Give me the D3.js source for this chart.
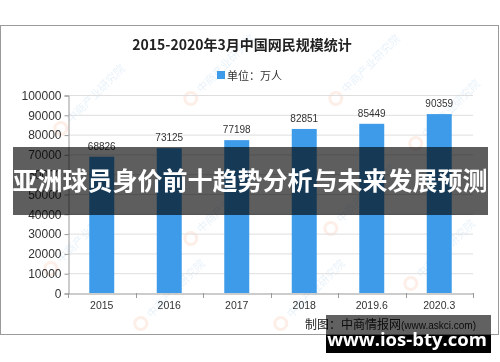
<!DOCTYPE html>
<html>
<head>
<meta charset="utf-8">
<script src="https://cdn.jsdelivr.net/npm/d3@7"></script>
<style>
  html,body{margin:0;padding:0;background:#fff;}
  svg{display:block;}
  .num{font-family:"Liberation Sans",Arial,sans-serif;fill:#333;}
  .cjk{font-family:"Noto Sans CJK SC","Noto Sans",sans-serif;}
</style>
</head>
<body>
<svg id="chart" width="500" height="362"></svg>
<script>
/* -------------------- data -------------------- */
const periods = ["2015","2016","2017","2018","2019.6","2020.3"];
const netUsers = [68826,73125,77198,82851,85449,90359];   // 万人
const yTicks = [0,10000,20000,30000,40000,50000,60000,70000,80000,90000,100000];
const titleText = "2015-2020年3月中国网民规模统计";
const legendText = "单位：万人";
const bannerText = "亚洲球员身价前十趋势分析与未来发展预测";
const sourceMain = "制图：中商情报网";
const sourceUrl = "(www.askci.com)";
const siteText = "www.ios-bty.com";
const watermarkText = "中商产业研究院";

/* -------------------- setup -------------------- */
const svg = d3.select("#chart");
const BLUE = "#3d9be9";

// outer frame of the picture
svg.append("rect")
   .attr("x",0.5).attr("y",25.5).attr("width",498).attr("height",309)
   .attr("fill","#fff").attr("stroke","#9a9a9a");

// faint watermarks (kept inside the frame)
const wm = svg.append("g").attr("opacity",0.12);
[[70,125],[200,95],[345,95],[425,140],[60,265],[200,235],[340,225],[420,280],[150,320],[290,320]]
  .forEach(([x,y])=>{
    const g = wm.append("g").attr("transform",`translate(${x},${y}) rotate(-45)`);
    g.append("circle").attr("cx",-9).attr("cy",-4).attr("r",6)
     .attr("fill","none").attr("stroke","#e8743b").attr("stroke-width",3);
    g.append("text").attr("class","cjk").attr("x",2).attr("y",0)
     .attr("font-size",11).attr("fill","#3d8fd6").text(watermarkText);
  });

const x = d3.scaleBand().domain(periods).range([68,473])
            .paddingInner(0.63).paddingOuter(0.315);
const y = d3.scaleLinear().domain([0,100000]).range([293,95]);

// title + legend
svg.append("text").attr("class","cjk")
   .attr("x",242).attr("y",50).attr("text-anchor","middle")
   .attr("font-size",14).attr("font-weight","bold").attr("fill","#222")
   .text(titleText);
svg.append("rect").attr("x",217).attr("y",71).attr("width",8).attr("height",8).attr("fill",BLUE);
svg.append("text").attr("class","cjk")
   .attr("x",227).attr("y",79.5).attr("font-size",11).attr("fill","#333")
   .text(legendText);

// gridlines
svg.append("g").selectAll("line").data(yTicks.slice(1)).join("line")
   .attr("x1",68).attr("x2",473).attr("y1",d=>y(d)+0.5).attr("y2",d=>y(d)+0.5)
   .attr("stroke","#dedede");

// y axis
const yAxis = svg.append("g").attr("transform","translate(68.5,0.5)")
   .call(d3.axisLeft(y).tickValues(yTicks).tickSize(4).tickPadding(3).tickFormat(d3.format("d")));
yAxis.selectAll("path,line").attr("stroke","#999");
yAxis.selectAll("text").attr("class","num").attr("font-size",12).attr("fill","#333");

// x axis
const xAxis = svg.append("g").attr("transform","translate(0,293.5)")
   .call(d3.axisBottom(x).tickSize(0).tickPadding(8));
xAxis.select("path").attr("stroke","#999");
xAxis.selectAll("text").attr("class","num").attr("font-size",10.5).attr("fill","#333");
// boundary ticks between categories
const halfGap = x.step()*x.paddingInner()/2;
svg.append("g").selectAll("line")
   .data(periods.map(p=>x(p)-halfGap).concat([473]))
   .join("line")
   .attr("x1",d=>Math.round(d)+0.5).attr("x2",d=>Math.round(d)+0.5)
   .attr("y1",293).attr("y2",298).attr("stroke","#999");

// bars
svg.append("g").selectAll("rect").data(netUsers).join("rect")
   .attr("x",(d,i)=>x(periods[i])).attr("width",x.bandwidth())
   .attr("y",d=>y(d)).attr("height",d=>y(0)-y(d))
   .attr("fill",BLUE);

// value labels
svg.append("g").selectAll("text").data(netUsers).join("text")
   .attr("class","num")
   .attr("x",(d,i)=>x(periods[i])+x.bandwidth()/2)
   .attr("y",d=>y(d)-7).attr("text-anchor","middle")
   .attr("font-size",10).text(d=>d);

// source note
const src = svg.append("text").attr("class","cjk")
   .attr("x",305).attr("y",329).attr("font-size",12).attr("fill","#222");
src.append("tspan").text(sourceMain);
src.append("tspan").attr("font-size",10).attr("font-family","'Liberation Sans',Arial,sans-serif")
   .text(sourceUrl);

/* -------------------- overlays -------------------- */
svg.append("rect").attr("x",13).attr("y",147).attr("width",475).attr("height",68)
   .attr("fill","#000").attr("fill-opacity",0.63);
svg.append("text").attr("class","cjk")
   .attr("x",250).attr("y",190).attr("text-anchor","middle")
   .attr("font-size",25).attr("font-weight","bold").attr("fill","#fff")
   .text(bannerText);

svg.append("rect").attr("x",326).attr("y",315).attr("width",165).attr("height",20)
   .attr("fill","#000").attr("fill-opacity",0.62);
svg.append("rect").attr("x",326).attr("y",335).attr("width",165).attr("height",18)
   .attr("fill","#000");
svg.append("text")
   .attr("x",407).attr("y",346).attr("text-anchor","middle")
   .attr("font-family","'Open Sans','DejaVu Sans',sans-serif")
   .attr("font-size",18.5).attr("font-weight","bold").attr("fill","#fff")
   .text(siteText);
</script>
</body>
</html>
